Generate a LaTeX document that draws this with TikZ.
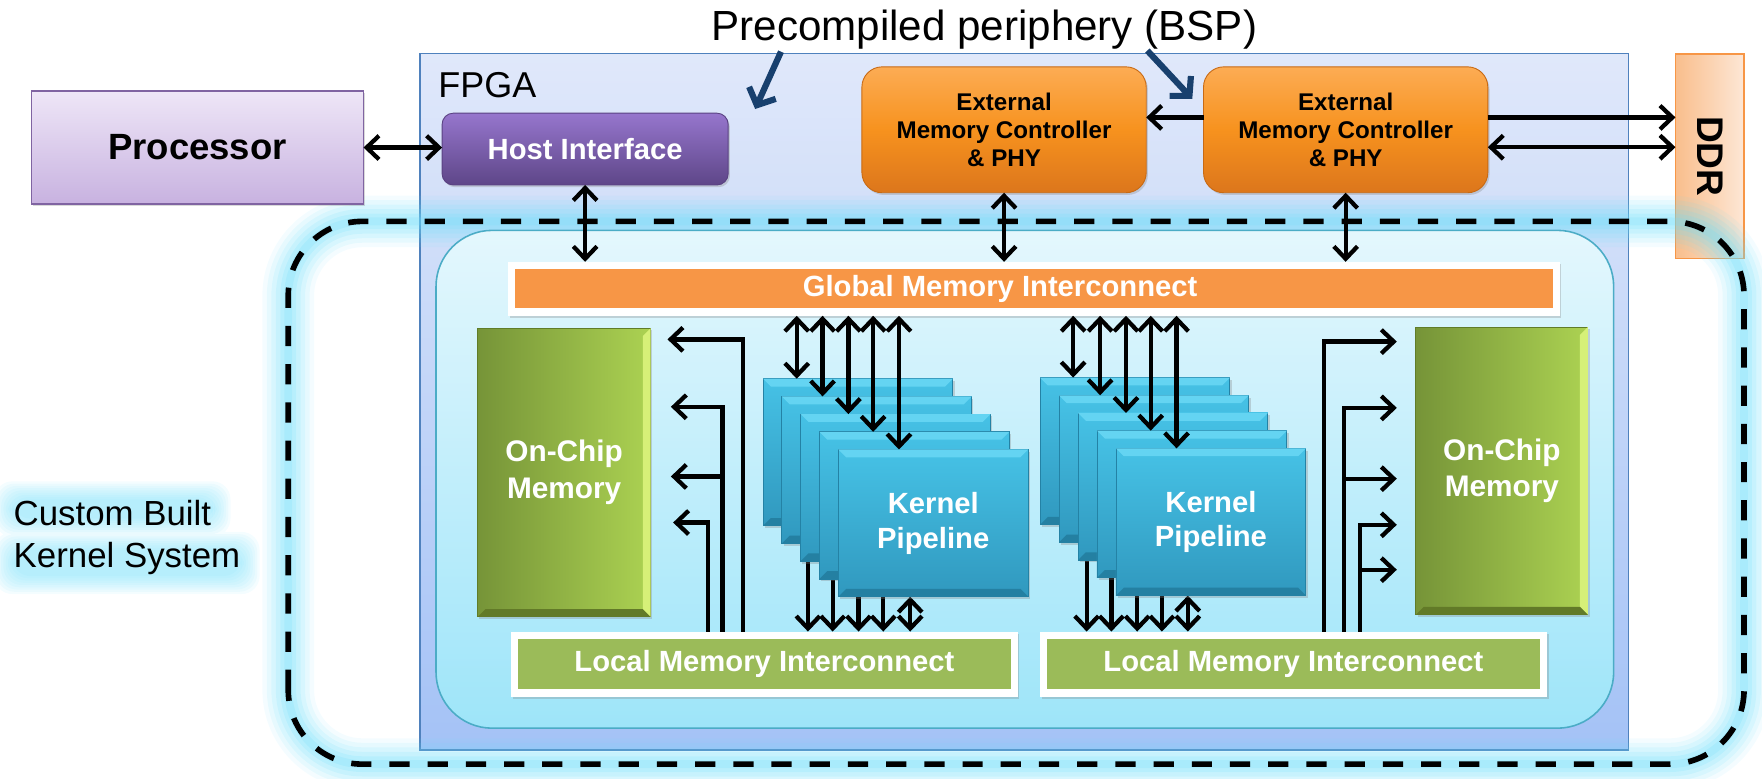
\documentclass[tikz,border=0pt]{standalone}
\usepackage{fontspec}
\setmainfont{Liberation Sans}
\usetikzlibrary{arrows.meta,calc,shadows}

\definecolor{fpgatop}{RGB}{224,232,250}
\definecolor{fpgabot}{RGB}{164,194,246}
\definecolor{fpgaline}{RGB}{79,129,189}
\definecolor{proctop}{RGB}{238,230,247}
\definecolor{procbot}{RGB}{200,178,224}
\definecolor{procline}{RGB}{128,100,162}
\definecolor{hosttop}{RGB}{150,118,205}
\definecolor{hostbot}{RGB}{94,70,136}
\definecolor{hostline}{RGB}{90,66,130}
\definecolor{exttop}{RGB}{252,172,84}
\definecolor{extmid}{RGB}{247,146,30}
\definecolor{extbot}{RGB}{220,118,28}
\definecolor{extline}{RGB}{200,106,20}
\definecolor{ddrleft}{RGB}{249,190,140}
\definecolor{ddrright}{RGB}{253,231,214}
\definecolor{ddrline}{RGB}{247,150,70}
\definecolor{glowc}{RGB}{110,222,250}
\definecolor{regtop}{RGB}{228,247,253}
\definecolor{regbot}{RGB}{158,229,249}
\definecolor{regline}{RGB}{75,172,198}
\definecolor{globc}{RGB}{247,150,70}
\definecolor{locc}{RGB}{155,187,89}
\definecolor{chipleft}{RGB}{118,148,56}
\definecolor{chipright}{RGB}{172,210,82}
\definecolor{chipline}{RGB}{96,124,40}
\definecolor{chiphi}{RGB}{214,240,120}
\definecolor{chiplo}{RGB}{98,122,40}
\definecolor{kerntop}{RGB}{70,194,230}
\definecolor{kernbot}{RGB}{48,152,190}
\definecolor{kernline}{RGB}{36,130,165}
\definecolor{kernhi}{RGB}{100,212,242}
\definecolor{kernlo}{RGB}{36,128,162}
\definecolor{bspc}{RGB}{24,64,110}

\pgfdeclarelayer{halo}
\pgfsetlayers{halo,main}

\tikzset{
  >={Straight Barb[length=11pt,width=21pt]},
  link/.style={draw=black, line width=3.8pt},
  bsplink/.style={draw=bspc, line width=5.5pt, -{Straight Barb[length=12pt,width=26pt]}},
  panel/.style={inner sep=0pt, outer sep=0pt},
  whitebold/.style={font=\fontsize{26}{31}\selectfont\bfseries, text=white, align=center},
  softshadow/.style={drop shadow={shadow xshift=1.5pt, shadow yshift=-2pt, opacity=0.3}},
  extbox/.style={panel, draw=extline, line width=0.8pt, rounded corners=18pt,
    top color=exttop, bottom color=extbot, middle color=extmid,
    minimum width=253pt, minimum height=112pt, align=center,
    font=\fontsize{21.5}{25}\selectfont\bfseries, softshadow},
  kernslot/.style={panel, minimum width=169pt, minimum height=131pt},
  kernbox/.style={kernslot, draw=kernline, line width=0.8pt, top color=kerntop, bottom color=kernbot, softshadow},
  chipbox/.style={panel, draw=chipline, line width=0.8pt, left color=chipleft, right color=chipright,
    minimum width=154pt, minimum height=257pt, text=white, align=center,
    font=\fontsize{26.5}{32.5}\selectfont\bfseries, softshadow},
  framebox/.style={panel, fill=white, softshadow},
  ktext/.style={anchor=base west, inner sep=0pt, font=\fontsize{31}{37}\selectfont},
}

\begin{document}
\begin{tikzpicture}[x=1pt, y=-1pt]
\useasboundingbox (0,0) rectangle (1568,693);

% FPGA device and external DDR
\node[panel, draw=fpgaline, line width=1.3pt, top color=fpgatop, bottom color=fpgabot,
      minimum width=1075.4pt, minimum height=620pt] (fpga) at (911.3,357.5) {};
\node[panel, draw=ddrline, line width=1.5pt, left color=ddrleft, right color=ddrright,
      minimum width=61pt, minimum height=182pt] (ddr) at (1521.5,139) {};

% custom kernel system outline with its glow
\node[panel, minimum width=1295.5pt, minimum height=483pt] (ksys) at (904.25,438.5) {};
\foreach \w/\o in {46/0.08,38/0.10,30/0.12,22/0.15,14/0.18,7/0.2}
  \draw[glowc, line width=\w pt, opacity=\o, rounded corners=66pt]
    (ksys.south west) rectangle (ksys.north east);
\draw[line width=5pt, dash pattern=on 18pt off 16pt, rounded corners=66pt]
  (ksys.south west) rectangle (ksys.north east);

% kernel region inside the FPGA
\node[panel, draw=regline, line width=1.4pt, rounded corners=50pt, top color=regtop, bottom color=regbot,
      minimum width=1048pt, minimum height=443pt] (kreg) at (912,426.5) {};

% host side and periphery blocks
\node[panel, draw=procline, line width=1.3pt, top color=proctop, bottom color=procbot,
      minimum width=295.5pt, minimum height=100.6pt, softshadow,
      font=\fontsize{32.5}{39}\selectfont\bfseries] (proc) at (175.75,131.3) {Processor};
\node[panel, draw=hostline, line width=0.8pt, rounded corners=10pt, top color=hosttop, bottom color=hostbot,
      minimum width=254.6pt, minimum height=63.9pt, softshadow, text=white,
      font=\fontsize{26}{31}\selectfont\bfseries] (host) at (520.7,132.65) {Host Interface};
\node[extbox] (ext1) at (893.5,115.5) {External\\Memory Controller\\\& PHY};
\node[extbox] (ext2) at (1197.5,115.5) {External\\Memory Controller\\\& PHY};
\node[rotate=-90, inner sep=0pt, font=\fontsize{33}{40}\selectfont\bfseries] (ddrlbl) at (ddr.center) {DDR};
\node[anchor=base west, inner sep=0pt, font=\fontsize{32}{38}\selectfont] (fpgalbl) at (390,87) {FPGA};
\node[anchor=base, inner sep=0pt, font=\fontsize{37.5}{45}\selectfont] (bsp) at (876,35.6) {Precompiled periphery (BSP)};

% interconnect bars
\node[framebox, minimum width=936pt, minimum height=48pt] (globf) at (920,257) {};
\node[panel, fill=globc, minimum width=924pt, minimum height=35pt] (glob) at (920,257) {};
\node[whitebold, inner sep=0pt] (globlbl) at (890,257.5) {Global Memory Interconnect};
\node[framebox, minimum width=450.5pt, minimum height=58pt] (locLf) at (680.25,591) {};
\node[panel, fill=locc, minimum width=438.5pt, minimum height=44pt, whitebold] (locL) at (680.25,591) {Local Memory Interconnect};
\node[framebox, minimum width=451pt, minimum height=58pt] (locRf) at (1151,591) {};
\node[panel, fill=locc, minimum width=439pt, minimum height=44pt, whitebold] (locR) at (1151,591) {Local Memory Interconnect};

% on-chip memories with bevelled edges
\node[chipbox] (chipL) at (502,420.5) {On-Chip\\Memory};
\node[chipbox, minimum width=153pt, minimum height=256pt] (chipR) at (1336.5,419) {On-Chip\\Memory};
\foreach \c in {chipL,chipR} {
  \fill[chiphi] (\c.north east) -- (\c.south east) -- ($(\c.south east)+(-7,-7)$) -- ($(\c.north east)+(-7,7)$) -- cycle;
  \fill[chiplo] (\c.south west) -- (\c.south east) -- ($(\c.south east)+(-7,-7)$) -- ($(\c.south west)+(7,-7)$) -- cycle;
}

% kernel pipeline stacks: slots first, links behind, boxes, then links on top
\foreach \i in {0,...,4} {
  \path (763.5+16.75*\i, 402.5+15.75*\i) node[kernslot] (kL\i) {};
  \path (1010+16.9*\i, 401.5+15.75*\i) node[kernslot] (kR\i) {};
}
\foreach \x [count=\i from 0] in {719,741,764,786} {
  \coordinate (t) at (\x,0);
  \draw[link,->] (t |- kL\i.south) -- (t |- locLf.north);
}
\coordinate (t) at (810,0);
\draw[link,<->] (t |- kL4.south) -- (t |- locLf.north);
\foreach \x [count=\i from 0] in {967,989,1012,1034} {
  \coordinate (t) at (\x,0);
  \draw[link,->] (t |- kR\i.south) -- (t |- locRf.north);
}
\coordinate (t) at (1057,0);
\draw[link,<->] (t |- kR4.south) -- (t |- locRf.north);

\foreach \s in {L,R} {
  \foreach \i in {0,...,4} {
    \node[kernbox] (k\s box\i) at (k\s\i) {};
    \fill[kernhi] (k\s box\i.north west) -- (k\s box\i.north east) -- ($(k\s box\i.north east)+(-7,7)$) -- ($(k\s box\i.north west)+(7,7)$) -- cycle;
    \fill[kernlo] (k\s box\i.south west) -- (k\s box\i.south east) -- ($(k\s box\i.south east)+(-7,-7)$) -- ($(k\s box\i.south west)+(7,-7)$) -- cycle;
  }
}
\node[whitebold] (kLtxt) at (kL4) {Kernel\\Pipeline};
\node[whitebold] (kRtxt) at (kR4) {Kernel\\Pipeline};

\foreach \x [count=\i from 0] in {709,732,755,777,800} {
  \coordinate (t) at (\x,0);
  \draw[link,<->] (t |- globf.south) -- (t |- kL\i.north);
}
\foreach \x [count=\i from 0] in {955,979,1002,1024,1047} {
  \coordinate (t) at (\x,0);
  \draw[link,<->] (t |- globf.south) -- (t |- kR\i.north);
}

% local interconnect to on-chip memory
\coordinate (vL1) at (661,0); \coordinate (vL2) at (643,0); \coordinate (vL3) at (630,0);
\coordinate (hL1) at (0,302); \coordinate (hL2) at (0,362); \coordinate (hL3) at (0,424); \coordinate (hL4) at (0,465);
\draw[link,->] (vL1 |- locLf.north) |- ($(chipL.east |- hL1)+(15,0)$);
\draw[link,->] (vL2 |- locLf.north) |- ($(chipL.east |- hL2)+(18,0)$);
\draw[link,->] (vL2 |- hL3) -- ($(chipL.east |- hL3)+(18,0)$);
\draw[link,->] (vL3 |- locLf.north) |- ($(chipL.east |- hL4)+(20,0)$);

\coordinate (vR1) at (1178,0); \coordinate (vR2) at (1196,0); \coordinate (vR3) at (1210,0);
\coordinate (hR1) at (0,304); \coordinate (hR2) at (0,363); \coordinate (hR3) at (0,426);
\coordinate (hR4) at (0,467); \coordinate (hR5) at (0,507);
\draw[link,->] (vR1 |- locRf.north) |- ($(chipR.west |- hR1)+(-17,0)$);
\draw[link,->] (vR2 |- locRf.north) |- ($(chipR.west |- hR2)+(-17,0)$);
\draw[link,->] (vR2 |- hR3) -- ($(chipR.west |- hR3)+(-17,0)$);
\draw[link,->] (vR3 |- locRf.north) |- ($(chipR.west |- hR4)+(-17,0)$);
\draw[link,->] (vR3 |- hR5) -- ($(chipR.west |- hR5)+(-17,0)$);

% host and memory links
\draw[link,<->] (proc.east) -- (proc.east -| host.west);
\coordinate (ey1) at (0,104.5); \coordinate (ey2) at (0,131);
\draw[link,->] (ext2.west |- ey1) -- (ext1.east |- ey1);
\draw[link,->] (ext2.east |- ey1) -- (ddr.west |- ey1);
\draw[link,<->] (ext2.east |- ey2) -- (ddr.west |- ey2);
\draw[link,<->] (host.south) -- (host.south |- globf.north);
\draw[link,<->] (ext1.south) -- (ext1.south |- globf.north);
\draw[link,<->] (ext2.south) -- (ext2.south |- globf.north);

% periphery pointers
\coordinate (b1s) at (695,46); \coordinate (b1e) at (672,97);
\coordinate (b2s) at (1021,45); \coordinate (b2e) at (1061,88);
\draw[bsplink] (b1s) -- (b1e);
\draw[bsplink] (b2s) -- (b2e);

% caption with a soft cyan halo behind it
\node[ktext] (kst1) at (12,468) {Custom Built};
\node[ktext] (kst2) at (12,505) {Kernel System};
\begin{pgfonlayer}{halo}
  \foreach \r in {17,15,13,11,9,7,5,3,1}
    \fill[glowc, opacity=0.075, rounded corners=16pt]
      ($(kst1.south west)+(-\r,\r-8)$) rectangle ($(kst1.north east)+(\r,-\r)$)
      ($(kst2.south west)+(-\r,\r)$) rectangle ($(kst2.north east)+(\r,-\r+8)$);
\end{pgfonlayer}
\end{tikzpicture}
\end{document}
